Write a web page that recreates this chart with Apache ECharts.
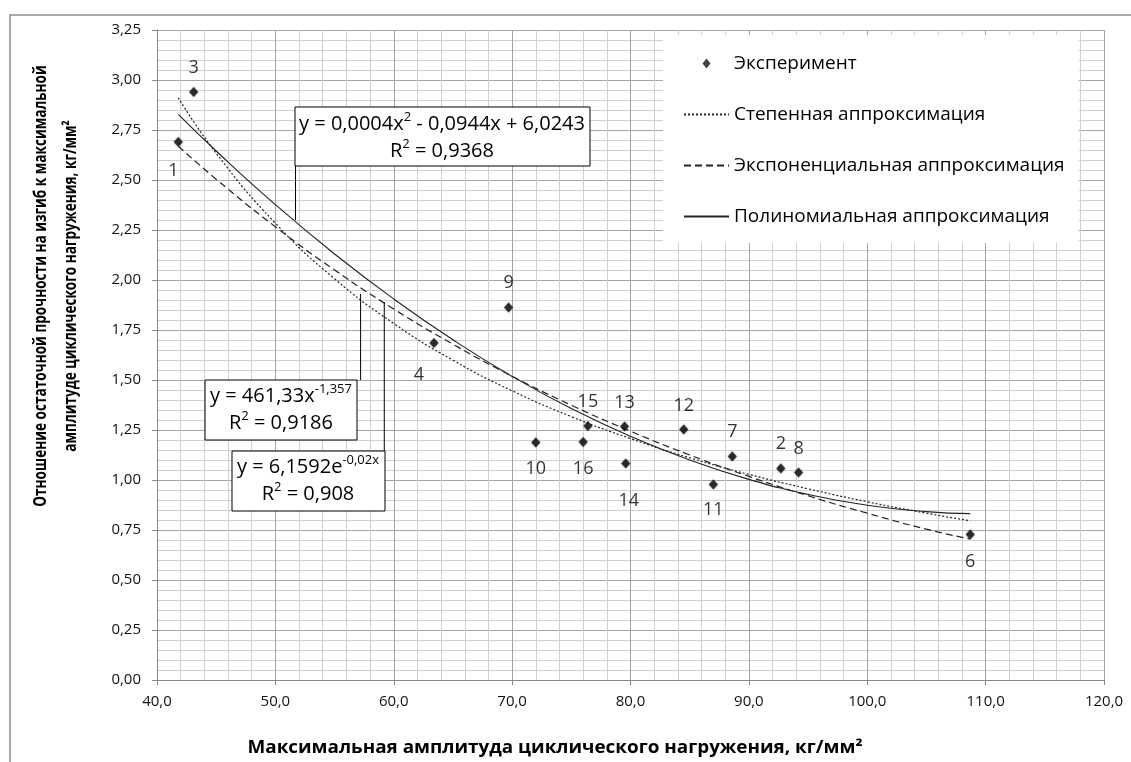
<!DOCTYPE html>
<html><head><meta charset="utf-8">
<script src="https://cdn.jsdelivr.net/npm/echarts@6/dist/echarts.min.js"></script>
<style>html,body{margin:0;padding:0;background:#fff}#chart{width:1131px;height:762px}</style>
</head><body><div id="chart"></div>
<script>
// ---- data ----
const pointNames = ['1','3','4','9','10','16','15','13','14','12','7','11','2','8','6'];
const expX = [41.8, 43.1, 63.4, 69.7, 72.0, 76.0, 76.4, 79.5, 79.6, 84.5, 88.6, 87.0, 92.7, 94.2, 108.7];
const expY = [2.69, 2.94, 1.685, 1.863, 1.187, 1.19, 1.27, 1.267, 1.083, 1.253, 1.117, 0.978, 1.058, 1.037, 0.728];

const trendX = [41.8, 45, 50, 55, 60, 65, 70, 75, 80, 85, 90, 95, 100, 105, 108.7];
const powerY = [2.911, 2.634, 2.284, 2.006, 1.783, 1.599, 1.446, 1.317, 1.207, 1.111, 1.028, 0.956, 0.891, 0.834, 0.796];
const expFitY = [2.669, 2.504, 2.266, 2.050, 1.855, 1.679, 1.519, 1.374, 1.244, 1.125, 1.018, 0.921, 0.834, 0.754, 0.705];
const polyY = [2.828, 2.645, 2.377, 2.130, 1.905, 1.701, 1.518, 1.357, 1.218, 1.100, 1.003, 0.928, 0.874, 0.842, 0.832];

const seriesNames = ['Эксперимент', 'Степенная аппроксимация', 'Экспоненциальная аппроксимация', 'Полиномиальная аппроксимация'];
const xTicks = { min: 40, max: 120, step: 10 };
const yTicks = { min: 0, max: 3.25, step: 0.25 };
const xTitle = 'Максимальная амплитуда циклического нагружения, кг/мм²';
const yTitle = ['Отношение остаточной прочности на изгиб к максимальной', 'амплитуде циклического нагружения, кг/мм²'];

// ---- presentation ----
const FONT = '"Open Sans", "Noto Sans", sans-serif';
const DIAMOND_ICON = 'path://M0,-5L4,0L0,5L-4,0Z';
const labelOffset = {
  '1': [-5, 29], '3': [0, -24], '4': [-15, 32], '9': [0, -25], '10': [0, 26], '16': [0, 27],
  '15': [0, -24], '13': [0, -24], '14': [3, 37], '12': [0, -24], '7': [0, -25], '11': [0, 25],
  '2': [0, -25], '8': [0, -24], '6': [0, 27]
};

const scatterData = expX.map((x, i) => ({
  value: [x, expY[i]], name: pointNames[i],
  label: { offset: labelOffset[pointNames[i]] }
}));
const pair = ys => trendX.map((x, i) => [x, ys[i]]);

const chart = echarts.init(document.getElementById('chart'), null, { renderer: 'canvas' });

const lineBase = {
  type: 'line', smooth: true, symbol: 'none', silent: true,
  itemStyle: { color: '#000' }, z: 3
};

chart.setOption({
  animation: false,
  backgroundColor: '#fff',
  textStyle: { fontFamily: FONT },
  grid: { left: 157, right: 27, top: 30, bottom: 82, containLabel: false, outerBoundsMode: 'none' },
  legend: {
    orient: 'vertical', left: 663, top: 35,
    backgroundColor: '#fff', padding: [19, 14, 17, 20],
    itemWidth: 45, itemHeight: 10, itemGap: 32,
    textStyle: { fontSize: 19, color: '#000', fontFamily: FONT },
    selectedMode: false,
    data: [
      { name: seriesNames[0], icon: DIAMOND_ICON, symbolKeepAspect: true },
      { name: seriesNames[1], itemStyle: { opacity: 0 } },
      { name: seriesNames[2], itemStyle: { opacity: 0 } },
      { name: seriesNames[3], itemStyle: { opacity: 0 } }
    ],
    z: 10
  },
  xAxis: {
    type: 'value', min: xTicks.min, max: xTicks.max, interval: xTicks.step,
    axisLine: { show: true, onZero: false, lineStyle: { color: '#868686', width: 1 } },
    axisTick: { show: true, length: 5, lineStyle: { color: '#868686' } },
    axisLabel: { margin: 14, fontSize: 15, color: '#111', fontFamily: FONT,
      formatter: v => v.toFixed(1).replace('.', ',') },
    splitLine: { show: true, lineStyle: { color: '#a4a4a4', width: 1 } },
    minorTick: { show: false, splitNumber: 5 },
    minorSplitLine: { show: true, lineStyle: { color: '#d0d0d0', width: 1 } }
  },
  yAxis: {
    type: 'value', min: yTicks.min, max: yTicks.max, interval: yTicks.step,
    axisLine: { show: true, onZero: false, lineStyle: { color: '#868686', width: 1 } },
    axisTick: { show: true, length: 5, lineStyle: { color: '#868686' } },
    axisLabel: { margin: 16, fontSize: 15, color: '#111', fontFamily: FONT,
      formatter: v => v.toFixed(2).replace('.', ',') },
    splitLine: { show: true, lineStyle: { color: '#a4a4a4', width: 1 } },
    minorTick: { show: false, splitNumber: 5 },
    minorSplitLine: { show: true, lineStyle: { color: '#d0d0d0', width: 1 } }
  },
  series: [
    {
      name: seriesNames[0], type: 'scatter', symbol: 'diamond', symbolSize: [9, 10],
      itemStyle: { color: '#111', shadowBlur: 2, shadowColor: 'rgba(0,0,0,0.6)' },
      data: scatterData, z: 4,
      label: { show: true, position: 'inside', formatter: p => p.name,
        fontSize: 18, color: '#000', fontFamily: FONT }
    },
    Object.assign({}, lineBase, { name: seriesNames[1], data: pair(powerY),
      lineStyle: { color: '#222', width: 1.2, type: [2, 2] } }),
    Object.assign({}, lineBase, { name: seriesNames[2], data: pair(expFitY),
      lineStyle: { color: '#222', width: 1.2, type: [7, 4] } }),
    Object.assign({}, lineBase, { name: seriesNames[3], data: pair(polyY),
      lineStyle: { color: '#222', width: 1.1, type: 'solid' } })
  ]
});

// ---- annotations: equation boxes with leader lines anchored on the fitted curves ----
const leaderAnchors = [[51.7, 2.30], [57.2, 1.93], [59.2, 1.89]];
const A = leaderAnchors.map(p => chart.convertToPixel({ gridIndex: 0 }, p));

const boxes = [
  { x: 295, y: 107, w: 295, h: 59, cx: 442, cy: 138,
    text: '{m|y = 0,0004x}{s|2}{m| - 0,0944x + 6,0243}\n{m|R}{s|2}{m| = 0,9368}', lead: [A[0][0], 166, A[0][0], A[0][1]] },
  { x: 205, y: 380, w: 152, h: 60, cx: 281, cy: 410,
    text: '{m|y = 461,33x}{s|-1,357}\n{m|R}{s|2}{m| = 0,9186}', lead: [A[1][0], 380, A[1][0], A[1][1]] },
  { x: 232, y: 451, w: 153, h: 60, cx: 308, cy: 481,
    text: '{m|y = 6,1592e}{s|-0,02x}\n{m|R}{s|2}{m| = 0,908}', lead: [A[2][0], 451, A[2][0], A[2][1]] }
];

const graphics = [
  { type: 'rect', shape: { x: 10, y: 15, width: 1140, height: 780 }, silent: true,
    style: { fill: 'none', stroke: '#8c8c8c', lineWidth: 1.5 }, z: 0 },
  { type: 'text', x: 555, y: 748, scaleX: 1.11, silent: true,
    style: { text: xTitle, font: 'bold 17px ' + FONT, fill: '#000', align: 'center', verticalAlign: 'middle' }, z: 20 },
  { type: 'text', x: 56, y: 286, rotation: Math.PI / 2, scaleX: 0.80, silent: true,
    style: { text: yTitle.join('\n'), font: 'bold 17px ' + FONT, fill: '#000', align: 'center', verticalAlign: 'middle', lineHeight: 30 }, z: 20 }
];
boxes.forEach(b => {
  graphics.push({ type: 'line', silent: true, shape: { x1: b.lead[0], y1: b.lead[1], x2: b.lead[2], y2: b.lead[3] },
    style: { stroke: '#000', lineWidth: 1 }, z: 30 });
  graphics.push({ type: 'rect', silent: true, shape: { x: b.x, y: b.y, width: b.w, height: b.h },
    style: { fill: '#fff', stroke: '#000', lineWidth: 1 }, z: 31 });
  graphics.push({ type: 'text', silent: true, x: b.cx, y: b.cy, z: 32,
    style: { text: b.text, align: 'center', verticalAlign: 'middle', fill: '#000',
      rich: {
        m: { fontFamily: FONT, fontSize: 20, lineHeight: 27, fill: '#000' },
        s: { fontFamily: FONT, fontSize: 13, lineHeight: 14, verticalAlign: 'top', fill: '#000' }
      } } });
});
chart.setOption({ graphic: { elements: graphics } });
</script>
</body></html>
